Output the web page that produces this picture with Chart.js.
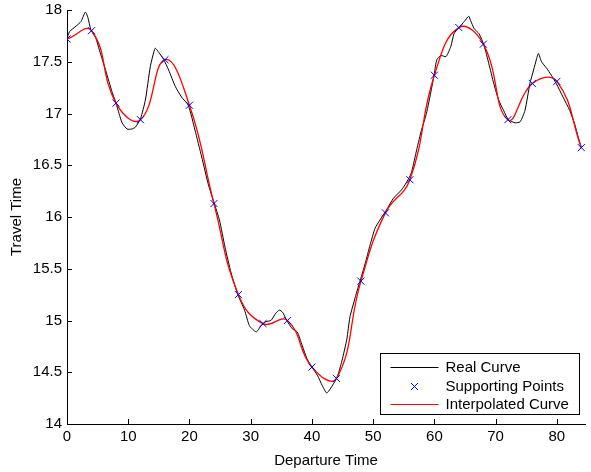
<!DOCTYPE html>
<html>
<head>
<meta charset="utf-8">
<title>Travel Time</title>
<script src="https://cdn.jsdelivr.net/npm/chart.js@4/dist/chart.umd.min.js"></script>
<style>
    html, body { margin: 0; padding: 0; background: #fff; }
    #wrap { width: 591px; height: 472px; position: relative; }
</style>
</head>
<body>
<div id="wrap"><canvas id="travelChart"></canvas></div>
<script>
// Real curve
const realX = [0, 0.4, 1.5, 2.3, 3.0, 3.4, 3.9, 4.7, 5.3, 6.3, 7.4, 8.0, 8.5, 9.0, 9.8, 10.6, 11.2, 12.0, 12.8, 13.6,
    14.4, 15.0, 15.8, 16.6, 17.7, 18.7, 19.8, 20.9, 22.0, 23.1, 24.0, 24.9, 25.8, 26.8, 27.9, 29.0, 29.8, 30.9, 31.7,
    32.5, 33.3, 34.1, 34.7, 35.2, 35.9, 36.8, 37.6, 38.4, 39.2, 40.0, 40.9, 41.7, 42.4, 43.0, 44.1, 44.9, 45.7, 46.2,
    47.1, 47.9, 48.7, 49.5, 50.3, 51.1, 52.2, 53.3, 54.6, 55.4, 56.2, 57.0, 57.8, 58.7, 59.5, 60.0, 60.4, 61.1, 61.9,
    62.7, 63.2, 64.0, 64.9, 65.6, 65.9, 66.5, 67.3, 68.1, 68.9, 69.7, 70.5, 71.3, 72.1, 73.2, 74.0, 74.8, 75.6, 76.2,
    76.7, 77.0, 77.5, 78.3, 79.1, 79.9, 81.0, 82.1, 82.9, 83.5, 84.0];
const realY = [17.72, 17.79, 17.845, 17.89, 17.98, 17.93, 17.81, 17.73, 17.61, 17.42, 17.20, 17.10, 17.00, 16.91, 16.85,
    16.85, 16.87, 16.95, 17.13, 17.45, 17.63, 17.59, 17.52, 17.42, 17.26, 17.16, 17.08, 16.84, 16.58, 16.31, 16.14,
    15.97, 15.71, 15.46, 15.25, 15.10, 14.95, 14.89, 14.95, 14.99, 15.00, 15.07, 15.10, 15.08, 15.00, 14.92, 14.89,
    14.76, 14.63, 14.55, 14.47, 14.37, 14.30, 14.34, 14.45, 14.61, 14.82, 15.03, 15.23, 15.39, 15.55, 15.73, 15.89,
    15.97, 16.07, 16.18, 16.26, 16.33, 16.42, 16.62, 16.82, 17.00, 17.23, 17.39, 17.52, 17.56, 17.55, 17.65, 17.77,
    17.83, 17.89, 17.94, 17.90, 17.82, 17.77, 17.66, 17.48, 17.29, 17.13, 17.03, 16.94, 16.91, 16.92, 17.03, 17.29,
    17.42, 17.53, 17.58, 17.50, 17.44, 17.37, 17.29, 17.16, 17.03, 16.90, 16.77, 16.67];

// Supporting points (every 4 time units)
const pointX = [0, 4, 8, 12, 16, 20, 24, 28, 32, 36, 40, 44, 48, 52, 56, 60, 64, 68, 72, 76, 80, 84];
const pointY = [17.72, 17.80, 17.10, 16.94, 17.52, 17.08, 16.13, 15.25, 14.97, 15.00, 14.55, 14.44, 15.38, 16.04,
    16.36, 17.37, 17.83, 17.67, 16.94, 17.29, 17.31, 16.67];

// Axis ticks
const xTicks = [0, 10, 20, 30, 40, 50, 60, 70, 80];
const yTicks = [14, 14.5, 15, 15.5, 16, 16.5, 17, 17.5, 18];

const seriesNames = ['Real Curve', 'Supporting Points', 'Interpolated Curve'];

const FONT = 'Liberation Sans, Arial, Helvetica, sans-serif';

function toXY(xs, ys) {
    return xs.map((x, i) => ({ x: x, y: ys[i] }));
}

// MATLAB style ticks pointing into the plot
const innerTicks = {
    id: 'innerTicks',
    afterDraw(chart) {
        const ctx = chart.ctx;
        const area = chart.chartArea;
        const xs = chart.scales.x;
        const ys = chart.scales.y;
        ctx.save();
        ctx.strokeStyle = '#000';
        ctx.lineWidth = 1;
        ctx.beginPath();
        yTicks.forEach(v => {
            const py = Math.round(ys.getPixelForValue(v)) + 0.5;
            ctx.moveTo(area.left, py);
            ctx.lineTo(area.left + 5, py);
        });
        xTicks.forEach(v => {
            const px = Math.round(xs.getPixelForValue(v)) + 0.5;
            ctx.moveTo(px, area.bottom);
            ctx.lineTo(px, area.bottom - 5);
        });
        ctx.stroke();
        ctx.restore();
    }
};

// Boxed legend in the lower right corner of the plot
const boxLegend = {
    id: 'boxLegend',
    afterDraw(chart) {
        const ctx = chart.ctx;
        const area = chart.chartArea;
        const w = 199, h = 61;
        const left = Math.round(area.right - 6 - w) + 0.5;
        const top = Math.round(area.bottom - 10 - h) + 0.5;
        ctx.save();
        ctx.fillStyle = '#fff';
        ctx.fillRect(left, top, w, h);
        ctx.strokeStyle = '#000';
        ctx.lineWidth = 1;
        ctx.strokeRect(left, top, w, h);

        const rows = [top + 13, top + 32, top + 50];
        ctx.font = '15px ' + FONT;
        ctx.textBaseline = 'middle';
        ctx.fillStyle = '#000';
        chart.data.datasets.forEach((ds, i) => {
            const y = Math.round(rows[i]) + 0.5;
            if (i === 1) {
                const cx = left + 34, r = 3.5;
                ctx.strokeStyle = ds.borderColor;
                ctx.beginPath();
                ctx.moveTo(cx - r, y - r);
                ctx.lineTo(cx + r, y + r);
                ctx.moveTo(cx - r, y + r);
                ctx.lineTo(cx + r, y - r);
                ctx.stroke();
            } else {
                ctx.strokeStyle = ds.borderColor;
                ctx.beginPath();
                ctx.moveTo(left + 10, y);
                ctx.lineTo(left + 58, y);
                ctx.stroke();
            }
            ctx.fillText(ds.label, left + 65, rows[i] + 1);
        });
        ctx.restore();
    }
};

const ctx = document.getElementById('travelChart').getContext('2d');
const chart = new Chart(ctx, {
    type: 'scatter',
    data: {
        datasets: [{
            label: seriesNames[0],
            data: toXY(realX, realY),
            showLine: true,
            borderColor: '#000000',
            borderWidth: 1,
            pointRadius: 0,
            tension: 0.2,
            order: 2
        }, {
            label: seriesNames[1],
            data: toXY(pointX, pointY),
            showLine: false,
            borderColor: '#0000ff',
            backgroundColor: '#0000ff',
            pointStyle: 'crossRot',
            pointRadius: 5,
            pointBorderWidth: 1,
            order: 0
        }, {
            label: seriesNames[2],
            data: toXY(pointX, pointY),
            showLine: true,
            borderColor: '#ff0000',
            borderWidth: 1.3,
            pointRadius: 0,
            tension: 0.45,
            order: 1
        }]
    },
    options: {
        responsive: true,
        maintainAspectRatio: false,
        animation: false,
        layout: { padding: { top: 10, right: 0, bottom: 0, left: 0 } },
        plugins: {
            legend: { display: false },
            tooltip: { enabled: false }
        },
        scales: {
            x: {
                type: 'linear',
                min: 0,
                max: 84.6,
                afterBuildTicks: axis => { axis.ticks = xTicks.map(v => ({ value: v })); },
                afterFit: axis => {
                    axis.height = 48;
                    axis.paddingLeft = 0;
                    axis.paddingRight = 0;
                },
                grid: { display: false, drawTicks: false },
                border: { display: true, color: '#000', width: 1 },
                ticks: {
                    color: '#000',
                    padding: 4,
                    maxRotation: 0,
                    callback: v => String(v),
                    font: { family: FONT, size: 15 }
                },
                title: {
                    display: true,
                    text: 'Departure Time',
                    color: '#000',
                    padding: { top: 0, bottom: 2 },
                    font: { family: FONT, size: 15 }
                }
            },
            y: {
                type: 'linear',
                min: 14,
                max: 18,
                afterBuildTicks: axis => { axis.ticks = yTicks.map(v => ({ value: v })); },
                afterFit: axis => {
                    axis.width = 67;
                    axis.paddingTop = 0;
                    axis.paddingBottom = 0;
                },
                grid: { display: false, drawTicks: false },
                border: { display: true, color: '#000', width: 1 },
                ticks: {
                    color: '#000',
                    padding: 5,
                    callback: v => String(v),
                    font: { family: FONT, size: 15 }
                },
                title: {
                    display: true,
                    text: 'Travel Time',
                    color: '#000',
                    padding: { top: 8, bottom: 0 },
                    font: { family: FONT, size: 15 }
                }
            }
        }
    },
    plugins: [innerTicks, boxLegend]
});
</script>
</body>
</html>
